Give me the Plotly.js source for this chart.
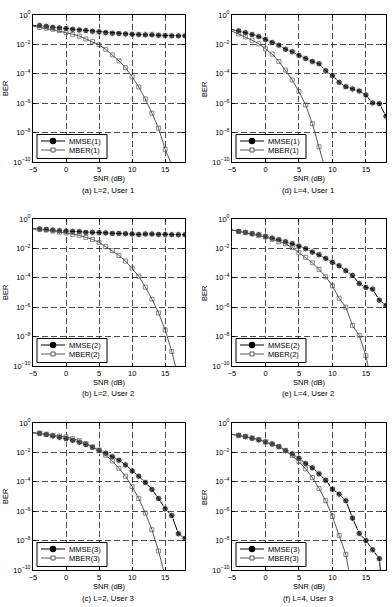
<!DOCTYPE html>
<html><head><meta charset="utf-8">
<script src="https://cdn.plot.ly/plotly-3.0.1.min.js"></script>
<style>html,body{margin:0;padding:0;background:#fff}#chart{width:392px;height:607px}</style>
</head><body><div id="chart"></div>
<script>
// ---- data (BER given as log10 values) ----
const snr = [-5,-4,-3,-2,-1,0,1,2,3,4,5,6,7,8,9,10,11,12,13,14,15,16,17,18];
const xTickVals = [-5, 0, 5, 10, 15];
const yTickVals = [1, 1e-2, 1e-4, 1e-6, 1e-8, 1e-10];
const yTickText = ['10<sup>0</sup>','10<sup>−2</sup>','10<sup>−4</sup>','10<sup>−6</sup>','10<sup>−8</sup>','10<sup>−10</sup>'];
const captions = ['(a) L=2, User 1','(d) L=4, User 1','(b) L=2, User 2','(e) L=4, User 2','(c) L=2, User 3','(f) L=4, User 3'];
const mmseNames = ['MMSE(1)','MMSE(1)','MMSE(2)','MMSE(2)','MMSE(3)','MMSE(3)'];
const mberNames = ['MBER(1)','MBER(1)','MBER(2)','MBER(2)','MBER(3)','MBER(3)'];

const mmseA = [-0.70,-0.72,-0.77,-0.84,-0.88,-0.93,-0.97,-1.02,-1.06,-1.11,-1.15,-1.20,-1.24,-1.26,-1.29,-1.31,-1.33,-1.35,-1.35,-1.38,-1.40,-1.42,-1.42,-1.42];
const mberA = [-0.75,-0.84,-0.90,-0.97,-1.06,-1.20,-1.31,-1.44,-1.63,-1.81,-2.03,-2.33,-2.71,-3.12,-3.59,-4.20,-4.90,-5.71,-6.68,-7.70,-9.14,-10.2];
const mmseD = [-0.99,-1.08,-1.20,-1.33,-1.47,-1.67,-1.87,-2.05,-2.33,-2.50,-2.75,-2.96,-3.16,-3.32,-3.79,-4.13,-4.58,-4.88,-5.03,-5.17,-5.44,-5.98,-6.03,-6.88];
const mberD = [-1.10,-1.29,-1.49,-1.72,-1.96,-2.30,-2.66,-3.16,-3.75,-4.42,-5.21,-6.12,-7.40,-8.96,-10.6];
const mmseB = [-0.66,-0.68,-0.70,-0.75,-0.80,-0.82,-0.84,-0.86,-0.91,-0.91,-0.93,-0.95,-0.98,-0.98,-1.00,-1.02,-1.05,-1.02,-1.02,-1.05,-1.05,-1.07,-1.07,-1.07];
const mberB = [-0.66,-0.70,-0.75,-0.82,-0.89,-0.95,-1.05,-1.11,-1.25,-1.39,-1.59,-1.89,-2.16,-2.48,-2.86,-3.34,-3.89,-4.64,-5.45,-6.39,-7.55,-9.02,-10.8];
const mmseE = [-0.75,-0.84,-0.91,-1.00,-1.07,-1.18,-1.30,-1.41,-1.55,-1.68,-1.84,-2.02,-2.25,-2.43,-2.68,-2.95,-3.18,-3.52,-3.84,-4.39,-4.66,-4.77,-5.52,-5.89];
const mberE = [-0.75,-0.85,-0.92,-1.01,-1.10,-1.22,-1.38,-1.55,-1.68,-1.95,-2.30,-2.61,-2.98,-3.43,-3.93,-4.55,-5.39,-6.00,-7.25,-7.91,-9.30,-11.6];
const mmseC = [-0.66,-0.70,-0.79,-0.88,-0.97,-1.06,-1.18,-1.31,-1.47,-1.65,-1.86,-2.06,-2.29,-2.53,-2.85,-3.26,-3.62,-4.05,-4.52,-5.14,-5.84,-6.29,-7.53,-7.85];
const mberC = [-0.66,-0.70,-0.77,-0.84,-0.88,-0.95,-1.06,-1.20,-1.40,-1.63,-1.86,-2.19,-2.58,-3.08,-3.62,-4.32,-5.14,-6.13,-7.26,-8.71,-10.4];
const mmseF = [-0.77,-0.84,-0.93,-1.04,-1.15,-1.29,-1.43,-1.61,-1.88,-2.10,-2.40,-2.76,-3.05,-3.46,-3.89,-4.50,-4.84,-5.29,-6.47,-7.51,-7.99,-8.62,-9.23,-14.0];
const mberF = [-0.77,-0.84,-0.91,-1.02,-1.13,-1.29,-1.43,-1.61,-1.88,-2.22,-2.62,-3.12,-3.71,-4.46,-5.29,-6.36,-7.65,-8.94,-11.5];

const mmseAll = [mmseA, mmseD, mmseB, mmseE, mmseC, mmseF];
const mberAll = [mberA, mberD, mberB, mberE, mberC, mberF];

// ---- layout geometry (pixels) ----
const W = 392, H = 607;
const cols = [[33, 185], [232, 386]];
const rows = [[15, 162], [219, 366], [423, 570]];
const snrY = [178.5, 382.5, 586];
const capY = [190.5, 393, 598.5];
const px = v => v / W, py = v => 1 - v / H;
const FONT = 'Liberation Sans, Arial, sans-serif';
const MBERC = '#595959';

const traces = [], layout = {
  width: W, height: H, margin: {l:0, r:0, t:0, b:0},
  paper_bgcolor: '#fff', plot_bgcolor: '#fff', showlegend: false,
  font: {family: FONT, size: 7.5, color: '#000'},
  annotations: [], shapes: []
};

for (let i = 0; i < 6; i++) {
  const r = Math.floor(i / 2), c = i % 2;
  const sfx = i === 0 ? '' : String(i + 1);
  const [x0, x1] = cols[c], [y0, y1] = rows[r];
  const ax = {
    domain: [px(x0), px(x1)], range: [-5, 18], anchor: 'y' + sfx,
    tickmode: 'array', tickvals: xTickVals, ticks: 'inside', ticklen: 3, tickcolor: '#000',
    showline: true, mirror: 'ticks', linecolor: '#000', linewidth: 1,
    showgrid: true, gridcolor: '#000', griddash: '6px,3px', gridwidth: 0.7,
    zeroline: false, tickfont: {size: 7.5, family: FONT}
  };
  const ay = {
    domain: [py(y1), py(y0)], type: 'log', range: [-10, 0], anchor: 'x' + sfx,
    tickmode: 'array', tickvals: yTickVals, ticktext: yTickText, ticks: 'inside', ticklen: 3, tickcolor: '#000',
    showline: true, mirror: 'ticks', linecolor: '#000', linewidth: 1,
    showgrid: true, gridcolor: '#000', griddash: '6px,3px', gridwidth: 0.7,
    zeroline: false, tickfont: {size: 7.5, family: FONT}
  };
  layout['xaxis' + sfx] = ax;
  layout['yaxis' + sfx] = ay;

  const mm = mmseAll[i], mb = mberAll[i];
  traces.push({
    x: snr.slice(0, mm.length), y: mm.map(v => Math.pow(10, v)),
    xaxis: 'x' + sfx, yaxis: 'y' + sfx, name: mmseNames[i], type: 'scatter', mode: 'lines+markers',
    line: {color: '#000', width: 1},
    marker: {symbol: 'circle', color: '#000', size: snr.slice(0, mm.length).map(v => v === -5 ? 0 : 6.5)}
  });
  traces.push({
    x: snr.slice(0, mb.length), y: mb.map(v => Math.pow(10, v)),
    xaxis: 'x' + sfx, yaxis: 'y' + sfx, name: mberNames[i], type: 'scatter', mode: 'lines+markers',
    line: {color: MBERC, width: 1},
    marker: {symbol: 'square-open', color: MBERC, size: snr.slice(0, mb.length).map(v => v === -5 ? 0 : 4), line: {width: 1, color: MBERC}}
  });

  // axis titles and caption
  const xc = (x0 + x1) / 2;
  layout.annotations.push({xref:'paper', yref:'paper', x: px(x0 - 27.5), y: py((y0 + y1) / 2), text: 'BER', textangle: -90, showarrow: false, xanchor:'center', yanchor:'middle', font:{size:7.5, family:FONT}});
  layout.annotations.push({xref:'paper', yref:'paper', x: px(xc), y: py(snrY[r]), text: 'SNR (dB)', showarrow: false, xanchor:'center', yanchor:'middle', font:{size:7.5, family:FONT}});
  layout.annotations.push({xref:'paper', yref:'paper', x: px(xc - 1), y: py(capY[r]), text: captions[i], showarrow: false, xanchor:'center', yanchor:'middle', font:{size:7.8, family:FONT}});

  // legend box (drawn in paper coordinates)
  const bl = x0 + 4, br = x0 + 74, bt = y1 - 27.5, bb = y1 - 3.5;
  const r1 = y1 - 21, r2 = y1 - 12;
  layout.shapes.push({type:'rect', xref:'paper', yref:'paper', x0: px(bl), x1: px(br), y0: py(bb), y1: py(bt), line:{color:'#000', width:1}, fillcolor:'#fff', layer:'above'});
  layout.shapes.push({type:'line', xref:'paper', yref:'paper', x0: px(bl + 4), x1: px(bl + 28), y0: py(r1), y1: py(r1), line:{color:'#000', width:1}, layer:'above'});
  layout.shapes.push({type:'circle', xref:'paper', yref:'paper', x0: px(bl + 16 - 3.2), x1: px(bl + 16 + 3.2), y0: py(r1 + 3.2), y1: py(r1 - 3.2), line:{color:'#000', width:0}, fillcolor:'#000', layer:'above'});
  layout.shapes.push({type:'line', xref:'paper', yref:'paper', x0: px(bl + 4), x1: px(bl + 28), y0: py(r2), y1: py(r2), line:{color:MBERC, width:1}, layer:'above'});
  layout.shapes.push({type:'rect', xref:'paper', yref:'paper', x0: px(bl + 16 - 2), x1: px(bl + 16 + 2), y0: py(r2 + 2), y1: py(r2 - 2), line:{color:MBERC, width:1}, fillcolor:'#fff', layer:'above'});
  layout.annotations.push({xref:'paper', yref:'paper', x: px(bl + 30), y: py(r1), text: mmseNames[i], showarrow:false, xanchor:'left', yanchor:'middle', font:{size:7.5, family:FONT}});
  layout.annotations.push({xref:'paper', yref:'paper', x: px(bl + 30), y: py(r2), text: mberNames[i], showarrow:false, xanchor:'left', yanchor:'middle', font:{size:7.5, family:FONT}});
}

Plotly.newPlot('chart', traces, layout, {staticPlot: true, displayModeBar: false});
</script>
</body></html>
